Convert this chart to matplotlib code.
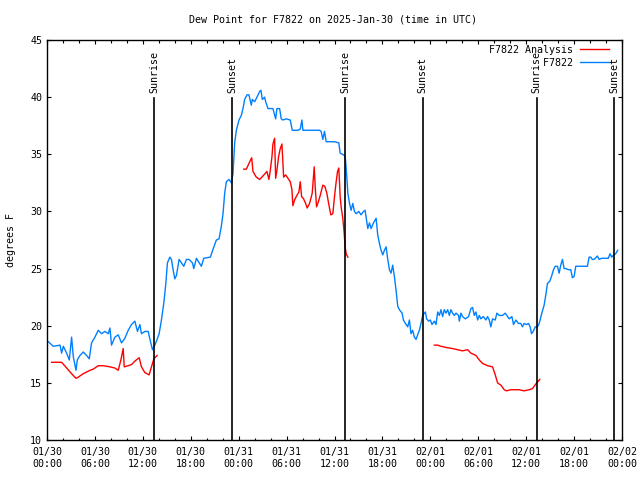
import matplotlib
matplotlib.use("Agg")
import matplotlib.pyplot as plt
import numpy as np
from matplotlib.ticker import MultipleLocator

plt.rcParams["font.family"] = ["DejaVu Sans Mono"]
plt.rcParams["font.size"] = 7.2

# hours since 01/30 00:00 UTC
blue_hours = [
    0.17, 0.79, 1.63, 1.83, 2.04, 2.46, 2.79, 3.08, 3.29, 3.63, 3.79, 4.13,
    4.54, 4.96, 5.29, 5.58, 6.0, 6.42, 6.83, 7.25, 7.67, 7.88, 8.08, 8.5,
    8.92, 9.33, 9.75, 10.17, 10.58, 11.0, 11.33, 11.63, 11.83, 12.25, 12.67,
    12.96, 13.21, 13.5, 13.79, 14.04, 14.33, 14.63, 14.88, 15.08, 15.38,
    15.58, 15.79, 16.0, 16.21, 16.54, 16.83, 17.13, 17.46, 17.79, 18.21,
    18.38, 18.71, 19.33, 19.63, 20.46, 20.79, 21.21, 21.54, 21.83, 22.04,
    22.25, 22.46, 22.79, 23.08, 23.29, 23.5, 23.71, 24.04,
    24.33, 24.54, 24.75, 25.04, 25.29, 25.58, 25.71, 26.0, 26.29, 26.63,
    26.79, 26.96, 27.25, 27.38, 27.67, 28.29, 28.63, 28.79, 29.13, 29.33,
    29.54, 29.96, 30.46, 30.71, 31.0, 31.42, 31.71, 31.92, 32.04, 32.38,
    32.67, 33.29, 34.13, 34.33, 34.54, 34.75, 34.96, 35.38, 36.0, 36.54,
    36.71, 37.25, 37.38, 37.54, 37.67, 37.88, 38.08, 38.29, 38.5, 38.71,
    39.04, 39.33, 39.63, 39.83, 40.04, 40.17, 40.38, 40.58, 40.88, 41.21,
    41.42, 41.63, 41.83, 42.04, 42.25, 42.46, 42.67, 42.88, 43.08, 43.29,
    43.5, 43.71, 43.92, 44.13, 44.46, 44.63, 44.88, 45.17, 45.38, 45.58,
    45.79, 46.0, 46.21, 46.46,
    46.63, 46.83, 47.04, 47.38, 47.54, 47.79, 48.0, 48.21, 48.5, 48.71,
    48.92, 49.13, 49.33, 49.54, 49.75, 49.96, 50.17, 50.38, 50.58, 50.79,
    51.0, 51.21, 51.54, 51.63, 51.83, 52.04, 52.38, 52.79, 53.08, 53.29,
    53.5, 53.71, 53.92, 54.13, 54.33, 54.63, 54.96, 55.17, 55.38, 55.58,
    55.79, 56.13, 56.33, 56.63, 57.04, 57.38, 57.67, 57.88, 58.21, 58.42,
    58.71, 59.04, 59.33, 59.54, 59.75, 60.04, 60.29, 60.5, 60.67, 60.88,
    61.13, 61.42, 61.63, 61.96, 62.25, 62.46, 62.67, 62.96, 63.21, 63.42,
    63.63, 63.92, 64.13, 64.33, 64.54, 64.75, 64.96, 65.29, 65.58, 65.79,
    66.0, 66.21, 66.63, 67.67, 67.88, 68.08, 68.29, 68.5, 68.92, 69.13,
    69.46, 70.29, 70.5, 70.71, 70.96, 71.21, 71.46,
]
blue_vals = [
    18.6, 18.2, 18.3, 17.6, 18.2, 17.6, 17.0, 19.0, 17.3, 16.1, 17.0, 17.4,
    17.7, 17.4, 17.1, 18.5, 19.0, 19.6, 19.3, 19.5, 19.3, 19.8, 18.3, 19.0,
    19.2, 18.5, 18.9, 19.6, 20.1, 20.4, 19.5, 20.1, 19.3, 19.5, 19.5,
    18.6, 17.9, 18.3, 18.8, 19.3, 20.5, 22.0, 23.7, 25.5, 26.0,
    25.8, 24.9, 24.1, 24.4, 25.8, 25.5, 25.2, 25.8, 25.8, 25.5,
    25.0, 25.9, 25.2, 25.9, 26.0, 26.7, 27.5, 27.6, 28.7, 29.8,
    31.6, 32.6, 32.8, 32.5, 33.3, 36.0, 37.1, 38.0,
    38.4, 39.0, 39.8, 40.2, 40.2, 39.3, 39.8, 39.6, 40.0, 40.5,
    40.6, 39.8, 40.0, 39.6, 39.0, 39.0, 38.1, 39.0, 39.0, 38.1,
    38.0, 38.1, 38.0, 37.1, 37.1, 37.1, 37.2, 38.0, 37.1, 37.1,
    37.1, 37.1, 37.1, 37.0, 36.3, 37.0, 36.1, 36.1, 36.1, 36.0,
    35.1, 34.9, 34.5, 33.0, 31.6, 30.7, 30.1, 30.7, 30.0, 29.8,
    30.0, 29.7, 30.0, 30.1, 29.1, 28.5, 29.0, 28.5, 29.0, 29.4,
    27.9, 27.2, 26.6, 26.2, 26.6, 26.9, 25.8, 24.9, 24.6, 25.3,
    24.3, 23.1, 21.7, 21.4, 21.1, 20.5, 20.2, 19.9, 20.5, 19.3,
    19.6, 19.0, 18.8, 19.3,
    19.6, 20.2, 20.9, 21.2, 20.6, 20.4, 20.5, 20.1, 20.4, 20.1,
    21.2, 20.9, 21.4, 20.8, 21.4, 21.1, 21.4, 20.9, 21.4, 21.1,
    20.9, 21.1, 20.9, 20.4, 21.1, 20.8, 20.6, 20.8, 21.5, 21.6,
    20.9, 21.2, 20.5, 20.9, 20.6, 20.8, 20.5, 20.8, 20.5, 19.9,
    20.6, 20.5, 21.1, 20.9, 20.9, 21.1, 20.8, 20.6, 20.8, 20.1,
    20.5, 20.2, 20.2, 19.9, 20.2, 20.1, 20.2, 19.9, 19.3, 19.5,
    19.9, 19.9, 20.2, 21.1, 21.8, 22.7, 23.7, 23.9, 24.4, 24.9,
    25.2, 25.2, 24.6, 25.3, 25.8, 25.0, 25.0, 24.9, 24.9, 24.2,
    24.3, 25.2, 25.2, 25.2, 26.0, 26.0, 25.8, 25.8, 26.1, 25.8,
    25.9, 25.9, 26.3, 26.0, 26.2, 26.3, 26.6,
]

red_hours_1 = [
    0.58, 1.83, 2.46, 3.08, 3.63, 3.92, 4.54, 5.38, 5.79, 6.42, 7.04, 7.88,
    8.5, 8.92, 9.25, 9.54, 9.67, 10.17, 10.58, 11.0, 11.54, 11.83, 12.25,
    12.79, 13.08, 13.38, 13.79,
]
red_vals_1 = [
    16.8, 16.8, 16.3, 15.8, 15.4, 15.5, 15.8, 16.1, 16.2, 16.5, 16.5, 16.4,
    16.3, 16.1, 17.0, 18.0, 16.4, 16.5, 16.6, 16.9, 17.2, 16.4, 15.9,
    15.7, 16.4, 17.1, 17.4,
]
red_hours_2 = [
    24.63, 24.96, 25.29, 25.63, 25.79, 26.21, 26.63, 27.04, 27.54, 27.79,
    27.96, 28.17, 28.29, 28.5, 28.63, 28.79, 29.0, 29.21, 29.42, 29.63,
    29.88, 30.17, 30.46, 30.67, 30.79, 31.0, 31.29, 31.54, 31.71, 31.88,
    32.13, 32.38, 32.58, 32.88, 33.21, 33.46, 33.58, 33.75, 33.96, 34.21,
    34.54, 34.79, 35.04, 35.29, 35.54, 35.79, 36.0, 36.21, 36.38, 36.54,
    36.71, 36.83, 37.04, 37.21, 37.33, 37.46, 37.67,
]
red_vals_2 = [
    33.7, 33.7, 34.2, 34.7, 33.5, 33.0, 32.8, 33.1, 33.5, 32.8,
    33.6, 34.8, 35.9, 36.4, 32.9, 33.6, 34.8, 35.5, 35.9, 33.0,
    33.2, 32.9, 32.6, 31.9, 30.5, 31.0, 31.4, 31.7, 32.6, 31.3,
    31.1, 30.7, 30.3, 30.7, 31.6, 33.9, 32.2, 30.4, 30.8, 31.4,
    32.3, 32.2, 31.6, 30.6, 29.7, 29.8, 31.3, 32.6, 33.5, 33.8,
    31.3, 30.4, 29.4, 28.1, 26.9, 26.3, 26.0,
]
red_hours_3 = [
    48.5, 48.92, 49.33, 49.96, 50.79, 51.42, 52.04, 52.67, 53.08, 53.71,
    54.13, 54.54, 55.17, 55.79, 56.13, 56.42, 56.83, 57.25, 57.54, 58.08,
    59.13, 59.75, 60.38, 60.79, 61.21, 61.71,
]
red_vals_3 = [
    18.3, 18.3, 18.2, 18.1, 18.0, 17.9, 17.8, 17.9, 17.6, 17.4,
    17.0, 16.7, 16.5, 16.4, 15.7, 15.0, 14.8, 14.4, 14.3, 14.4,
    14.4, 14.3, 14.4, 14.5, 14.9, 15.3,
]

sun_hours = [13.4, 23.2, 37.3, 47.05, 61.3, 71.0]
sun_labels = ["Sunrise", "Sunset", "Sunrise", "Sunset", "Sunrise", "Sunset"]

tick_labels = [
    "01/30\n00:00", "01/30\n06:00", "01/30\n12:00", "01/30\n18:00",
    "01/31\n00:00", "01/31\n06:00", "01/31\n12:00", "01/31\n18:00",
    "02/01\n00:00", "02/01\n06:00", "02/01\n12:00", "02/01\n18:00",
    "02/02\n00:00",
]

fig = plt.figure(figsize=(6.4, 4.8), dpi=100)
ax = fig.add_axes([47 / 640, 40 / 480, 575 / 640, 400 / 480])

red_h = red_hours_1 + [np.nan] + red_hours_2 + [np.nan] + red_hours_3
red_v = red_vals_1 + [np.nan] + red_vals_2 + [np.nan] + red_vals_3
ax.plot(red_h, red_v, color="#ff0000", lw=1.0, label="F7822 Analysis")
ax.plot(blue_hours, blue_vals, color="#0080ff", lw=1.0, label="         F7822")

for h, lab in zip(sun_hours, sun_labels):
    ax.axvline(h, ymin=0, ymax=0.855, color="black", lw=1.2)
    ax.text(h, 0.8675, lab, rotation=90, ha="center", va="bottom",
            transform=ax.get_xaxis_transform())

ax.set_xlim(0, 72)
ax.set_ylim(10, 45)
ax.set_xticks(np.arange(0, 73, 6))
ax.set_xticklabels(tick_labels)
ax.xaxis.set_minor_locator(MultipleLocator(2))
ax.yaxis.set_major_locator(MultipleLocator(5))
ax.tick_params(which="major", direction="in", length=3.2, width=0.8,
               top=True, right=True, pad=5)
ax.tick_params(which="minor", direction="in", length=1.8, width=0.8,
               top=True, right=True)
ax.tick_params(axis="y", pad=3.5)
for s in ax.spines.values():
    s.set_linewidth(1.0)

ax.set_ylabel("degrees F", labelpad=10)
fig.text(0.52, 1 - 19 / 480, "Dew Point for F7822 on 2025-Jan-30 (time in UTC)",
         ha="center", va="center")

ax.legend(loc="upper right", bbox_to_anchor=(1 - 8 / 575, 1), frameon=False,
          markerfirst=False, handlelength=2.9, handletextpad=0.7,
          labelspacing=0.3, borderaxespad=0.2, borderpad=0.3)

fig.savefig("out.png", dpi=100)
